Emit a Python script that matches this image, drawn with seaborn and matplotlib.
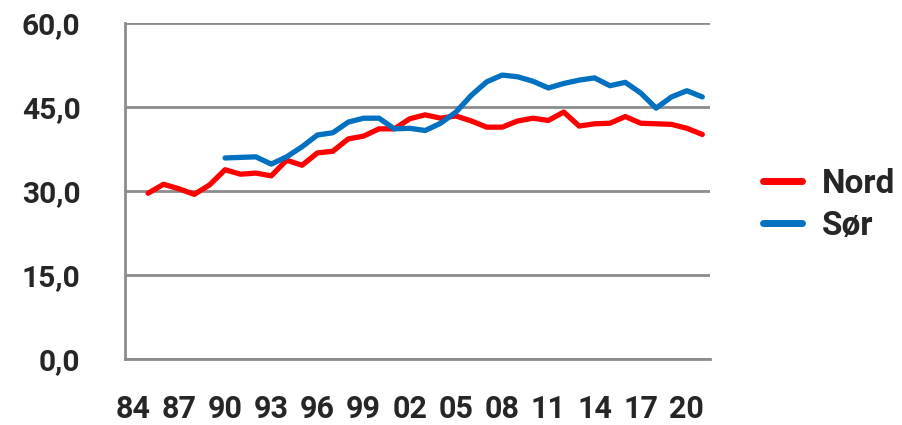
import numpy as np
import pandas as pd
import matplotlib
matplotlib.use("Agg")
import matplotlib.pyplot as plt
import seaborn as sns

years = list(range(1984, 2022))
nord = [np.nan, 29.6, 31.2, 30.4, 29.4, 31.1, 33.8, 33.0, 33.2, 32.7, 35.5, 34.6,
        36.8, 37.1, 39.3, 39.8, 41.1, 41.1, 42.9, 43.6, 43.0, 43.4, 42.5, 41.4,
        41.4, 42.5, 43.0, 42.6, 44.1, 41.6, 42.0, 42.1, 43.3, 42.1, 42.0, 41.9,
        41.2, 40.1]
sor = [np.nan] * 6 + [35.9, 36.0, 36.1, 34.8, 36.1, 37.9, 40.0, 40.4, 42.3, 43.0,
        43.0, 41.1, 41.2, 40.8, 42.1, 44.1, 47.1, 49.5, 50.7, 50.4, 49.6, 48.4,
        49.2, 49.8, 50.2, 48.8, 49.4, 47.5, 44.8, 46.8, 47.9, 46.8]
series_names = ["Nord", "Sør"]
tick_labels = [f"{y % 100:02d}" for y in years]

df = pd.DataFrame({
    "idx": list(range(len(years))) * 2,
    "value": nord + sor,
    "serie": [series_names[0]] * len(years) + [series_names[1]] * len(years),
})

sns.set_style("white")
plt.rcParams["font.family"] = ["Roboto", "DejaVu Sans"]
plt.rcParams["font.weight"] = "bold"

fig = plt.figure(figsize=(9.02, 4.25), dpi=100)
ax = fig.add_axes([125 / 902, 1 - 359 / 425, (710 - 125) / 902, (359 - 23) / 425])

grey = "#8c8c8c"
sns.lineplot(data=df, x="idx", y="value", hue="serie",
             palette={"Nord": "#ff0000", "Sør": "#0070c0"},
             linewidth=3.8, ax=ax, legend=True)

ax.set_xlim(-0.5, len(years) - 0.5)
ax.set_ylim(0, 60)
ax.set_yticks([0, 15, 30, 45, 60])
ax.set_yticklabels([f"{v:.1f}".replace(".", ",") for v in [0, 15, 30, 45, 60]],
                   fontweight="bold", fontsize=21.5)
ax.yaxis.grid(True, color=grey, linewidth=2)
ax.set_axisbelow(True)

ax.set_xticks(list(range(0, len(years), 3)))
ax.set_xticklabels(tick_labels[::3], fontweight="bold", fontsize=22)
ax.set_xticks(np.arange(-0.5, len(years), 1.0), minor=True)
ax.tick_params(axis="x", which="major", length=0, pad=25)
ax.tick_params(axis="x", which="minor", length=6, width=2, color=grey, direction="out")
ax.tick_params(axis="y", which="major", length=10, width=2, color=grey,
               direction="inout", pad=27)

for s in ["top", "right"]:
    ax.spines[s].set_visible(False)
for s in ["left", "bottom"]:
    ax.spines[s].set_color(grey)
    ax.spines[s].set_linewidth(2)

ax.set_xlabel("")
ax.set_ylabel("")

leg = ax.legend(loc="center left", bbox_to_anchor=(1.09, 0.458), frameon=False,
                borderpad=0, borderaxespad=0,
                handlelength=1.17, handletextpad=0.6, labelspacing=0.3,
                prop={"weight": "bold", "size": 24})
for line in leg.get_lines():
    line.set_linewidth(5)

fig.savefig("out.png", dpi=100)
